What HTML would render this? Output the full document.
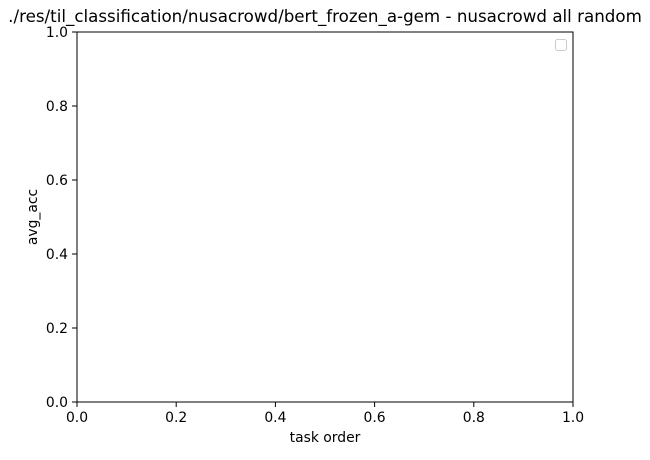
<!DOCTYPE html>
<html><head><meta charset="utf-8"><style>
body{margin:0;background:#fff;}
svg text{font-family:"DejaVu Sans","Liberation Sans",sans-serif;fill:#000;}
</style></head><body>
<svg id="chart" width="650" height="455" viewBox="0 0 650 455" xmlns="http://www.w3.org/2000/svg">
<rect width="650" height="455" fill="#fff"/>
<text x="325" y="22" font-size="16.7" text-anchor="middle">./res/til_classification/nusacrowd/bert_frozen_a-gem - nusacrowd all random</text>
<g id="xticks"></g><g id="yticks"></g>
<rect x="77" y="32" width="496" height="370" fill="none" stroke="#000" stroke-width="1"/>
<rect x="555.5" y="39.5" width="11" height="11" rx="2" fill="#fff" stroke="#ccc"/>
<text x="325" y="442" font-size="13.9" text-anchor="middle">task order</text>
<text transform="translate(37,217) rotate(-90)" font-size="13.9" text-anchor="middle">avg_acc</text>
</svg>
<script>
const xTickValues=[0,0.2,0.4,0.6,0.8,1.0];
const yTickValues=[0,0.2,0.4,0.6,0.8,1.0];
const NS="http://www.w3.org/2000/svg";
const x=v=>77+v*496, y=v=>402-v*370;
const xg=document.getElementById('xticks'), yg=document.getElementById('yticks');
xTickValues.forEach(v=>{
 const l=document.createElementNS(NS,'line');
 l.setAttribute('x1',x(v));l.setAttribute('x2',x(v));l.setAttribute('y1',402);l.setAttribute('y2',407);l.setAttribute('stroke','#000');
 
 
 xg.appendChild(l);
 const t=document.createElementNS(NS,'text');
 t.setAttribute('x',x(v));t.setAttribute('y',422);t.setAttribute('font-size','13.9');t.setAttribute('text-anchor','middle');
 t.textContent=v.toFixed(1);
 
 
 xg.appendChild(t);
});
yTickValues.forEach(v=>{
 const l=document.createElementNS(NS,'line');
 l.setAttribute('x1',72);l.setAttribute('x2',77);l.setAttribute('y1',y(v));l.setAttribute('y2',y(v));l.setAttribute('stroke','#000');
 
 
 yg.appendChild(l);
 const t=document.createElementNS(NS,'text');
 t.setAttribute('x',68);t.setAttribute('y',y(v)+5);t.setAttribute('font-size','13.9');t.setAttribute('text-anchor','end');
 t.textContent=v.toFixed(1);
 
 
 yg.appendChild(t);
});
</script>
</body></html>
